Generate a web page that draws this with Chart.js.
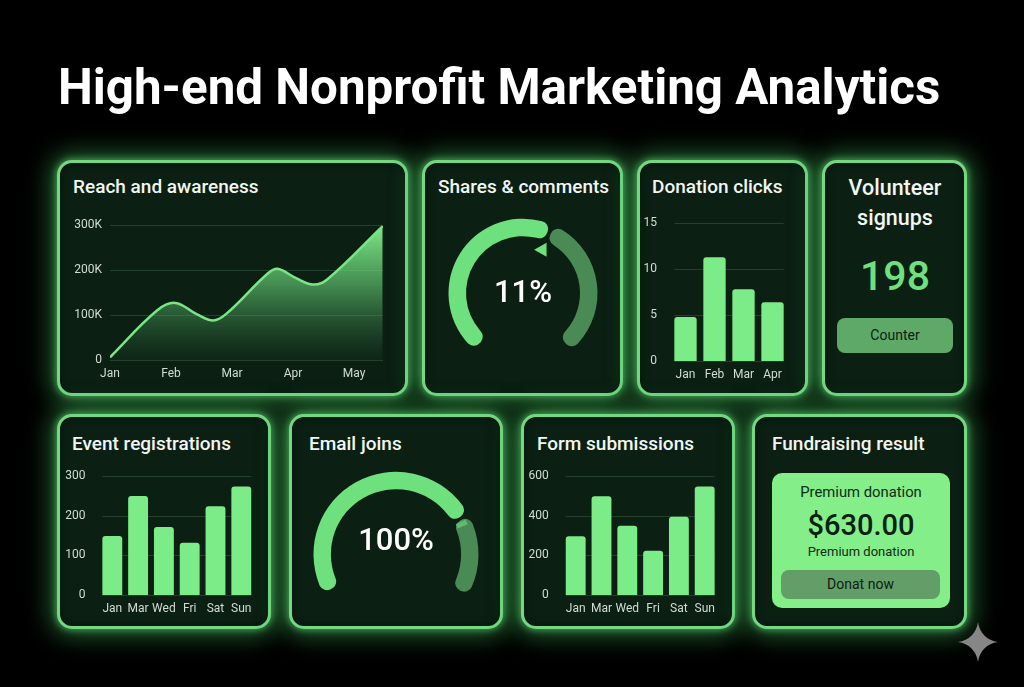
<!DOCTYPE html>
<html>
<head>
<meta charset="utf-8">
<title>High-end Nonprofit Marketing Analytics</title>
<script src="https://cdn.jsdelivr.net/npm/chart.js@4"></script>
<style>
  html, body { margin: 0; background: #000; }
  body { position: relative; width: 1024px; height: 687px; overflow: hidden; font-family: Roboto, sans-serif; color: #f2f6f2; }
  body > * { position: absolute; }
  h1 { margin: 0; left: 58px; top: 58px; font-size: 49.3px; line-height: 58px; font-weight: 700; color: #fff; white-space: nowrap; }
  .card { box-sizing: border-box; background: #0b1f13; border: 3px solid #72d882; border-radius: 15px;
          box-shadow: 0 0 7px 1px rgba(100,225,120,.6), 0 0 24px 7px rgba(65,185,90,.5), inset 0 0 10px rgba(0,0,0,.35); }
  .title { font-size: 19px; font-weight: 500; line-height: 24px; white-space: nowrap; }
  .center { transform: translateX(-50%); text-align: center; white-space: nowrap; }
  .pct { font-size: 31px; font-weight: 500; line-height: 36px; color: #fff; }
  .btn { box-sizing: border-box; border-radius: 8px; text-align: center; font-size: 14px; color: #0d2014; }
  canvas { display: block; }
</style>
</head>
<body>
<h1>High-end Nonprofit Marketing Analytics</h1>

<div class="card" style="left:57px;top:160px;width:351px;height:236px"></div>
<div class="card" style="left:422px;top:160px;width:201px;height:236px"></div>
<div class="card" style="left:637px;top:160px;width:171px;height:236px"></div>
<div class="card" style="left:822px;top:160px;width:145px;height:236px"></div>
<div class="card" style="left:57px;top:414px;width:214px;height:215px"></div>
<div class="card" style="left:289px;top:414px;width:214px;height:215px"></div>
<div class="card" style="left:521px;top:414px;width:214px;height:215px"></div>
<div class="card" style="left:752px;top:414px;width:215px;height:215px"></div>

<div class="title" style="left:73px;top:175px">Reach and awareness</div>
<div class="title" style="left:438px;top:175px">Shares &amp; comments</div>
<div class="title" style="left:652px;top:175px">Donation clicks</div>
<div class="title center" style="left:895px;top:173px;font-size:21.5px;line-height:30px">Volunteer<br>signups</div>
<div class="title" style="left:72px;top:432px">Event registrations</div>
<div class="title" style="left:309px;top:432px">Email joins</div>
<div class="title" style="left:537px;top:432px">Form submissions</div>
<div class="title" style="left:772px;top:432px">Fundraising result</div>

<canvas id="reach" width="338" height="175" style="left:62px;top:210px"></canvas>
<canvas id="shares" width="190" height="180" style="left:428px;top:195px"></canvas>
<canvas id="clicks" width="165" height="175" style="left:640px;top:210px"></canvas>
<canvas id="events" width="208" height="154" style="left:60px;top:463px"></canvas>
<canvas id="email" width="200" height="170" style="left:296px;top:449px"></canvas>
<canvas id="forms" width="208" height="154" style="left:524px;top:463px"></canvas>

<div class="pct center" style="left:523px;top:274px">11%</div>
<div class="pct center" style="left:396px;top:522px">100%</div>

<div class="center" style="left:895px;top:253px;font-size:41px;line-height:46px;font-weight:500;color:#6fe07f">198</div>
<div class="btn" style="left:837px;top:318px;width:116px;height:35px;line-height:35px;background:#5fa968">Counter</div>

<div style="left:772px;top:473px;width:178px;height:135px;border-radius:10px;background:#84ee88"></div>
<div class="center" style="left:861px;top:483px;font-size:14.8px;line-height:18px;color:#0f2a17">Premium donation</div>
<div class="center" style="left:861px;top:508px;font-size:29px;line-height:34px;font-weight:500;color:#0a2012">$630.00</div>
<div class="center" style="left:861px;top:543px;font-size:13px;line-height:18px;color:#0f2a17">Premium donation</div>
<div class="btn" style="left:781px;top:570px;width:159px;height:29px;line-height:29px;background:#639e68">Donat now</div>

<svg width="40" height="40" viewBox="0 0 40 40" style="left:958px;top:622px">
  <path d="M20 0C21.5 11 29 18.5 40 20C29 21.5 21.5 29 20 40C18.5 29 11 21.5 0 20C11 18.5 18.5 11 20 0Z" fill="#868686"/>
</svg>

<script>
const reachMonths = ["Jan", "Feb", "Mar", "Apr", "May"];
// x is in month units, the curve peaks don't sit on the month labels
const reachX = [0, 0.77, 1.07, 1.42, 1.69, 1.90, 2.59, 2.75, 3.05, 3.33, 3.56, 4.47];
const reachY = [6000, 110000, 127000, 102000, 88000, 102000, 193000, 203000, 182000, 168000, 179000, 298000];
const reachTicks = [0, 100000, 200000, 300000];

const sharesArc = [58.4, 41.6];
const emailArc = [75.7, 24.3];

const clickLabels = ["Jan", "Feb", "Mar", "Apr"];
const clickValues = [4.8, 11.3, 7.8, 6.4];

const weekLabels = ["Jan", "Mar", "Wed", "Fri", "Sat", "Sun"];
const eventValues = [149, 250, 172, 132, 224, 274];
const formValues = [297, 499, 350, 223, 395, 548];

const BRIGHT = "#7cec88";
const GAUGE = "#6fe07e";
const DIM = "#4a8a55";
const GRID = "rgba(120,180,130,.22)";
const TICK = "#d3dcd4";

Chart.defaults.font.family = "Roboto, sans-serif";
Chart.defaults.font.size = 12;
Chart.defaults.color = TICK;
Chart.defaults.animation = false;
Chart.defaults.responsive = false;
Chart.defaults.plugins.legend.display = false;
Chart.defaults.plugins.tooltip.enabled = false;

// grid lines only run from the first bar to the last one
const shortGrid = {
  id: "shortGrid",
  beforeDatasetsDraw(chart) {
    const bars = chart.getDatasetMeta(0).data;
    const first = bars[0], last = bars[bars.length - 1];
    const { ctx, scales } = chart;
    ctx.save();
    ctx.strokeStyle = GRID;
    ctx.lineWidth = 1;
    scales.y.ticks.forEach((t) => {
      const y = Math.round(scales.y.getPixelForValue(t.value)) + 0.5;
      ctx.beginPath();
      ctx.moveTo(first.x - first.width / 2, y);
      ctx.lineTo(last.x + last.width / 2, y);
      ctx.stroke();
    });
    ctx.restore();
  },
};

function barChart(id, labels, values, max, step, yWidth, rightPad, topPad, xHeight) {
  return new Chart(document.getElementById(id), {
    type: "bar",
    plugins: [shortGrid],
    data: {
      labels,
      datasets: [{
        data: values,
        backgroundColor: BRIGHT,
        barPercentage: 0.77,
        categoryPercentage: 1,
        borderRadius: { topLeft: 3, topRight: 3 },
        borderSkipped: "bottom",
      }],
    },
    options: {
      layout: { padding: { top: topPad, right: rightPad, left: 0, bottom: 0 } },
      scales: {
        x: {
          grid: { display: false, drawTicks: false },
          border: { display: false },
          ticks: { padding: 7, autoSkip: false, maxRotation: 0 },
          afterFit: (s) => { s.height = xHeight; },
        },
        y: {
          min: 0, max,
          grid: { display: false },
          border: { display: false },
          ticks: { stepSize: step, padding: 6 },
          afterFit: (s) => { s.width = yWidth; },
        },
      },
    },
  });
}

function gauge(id, values, radius, cutout, rotation, circumference, extra) {
  return new Chart(document.getElementById(id), {
    type: "doughnut",
    plugins: [extra],
    data: {
      datasets: [{
        data: values,
        backgroundColor: [GAUGE, DIM],
        borderWidth: 0,
        borderRadius: 8,
        spacing: 3,
      }],
    },
    options: { radius, cutout, rotation, circumference },
  });
}

new Chart(document.getElementById("reach"), {
  type: "line",
  data: {
    datasets: [{
      data: reachX.map((x, i) => ({ x, y: reachY[i] })),
      borderColor: "#79e686",
      borderWidth: 2.5,
      tension: 0.4,
      pointRadius: 0,
      fill: "origin",
      backgroundColor: (c) => {
        const area = c.chart.chartArea;
        if (!area) return "rgba(0,0,0,0)";
        const g = c.chart.ctx.createLinearGradient(0, area.top, 0, area.bottom);
        g.addColorStop(0, "rgba(124,236,136,1)");
        g.addColorStop(0.45, "rgba(105,210,120,.6)");
        g.addColorStop(1, "rgba(60,140,80,.06)");
        return g;
      },
    }],
  },
  options: {
    layout: { padding: { top: 13, right: 17 } },
    scales: {
      x: {
        type: "linear",
        min: 0, max: 4.475,
        grid: { display: false, drawTicks: false },
        border: { display: false },
        ticks: { stepSize: 1, includeBounds: false, padding: 7, maxRotation: 0, callback: (v) => reachMonths[v] },
        afterFit: (s) => { s.height = 25; },
      },
      y: {
        min: 0, max: 300000,
        afterBuildTicks: (s) => { s.ticks = reachTicks.map((value) => ({ value })); },
        grid: { color: GRID, drawTicks: false },
        border: { display: false },
        ticks: { padding: 8, callback: (v) => (v ? v / 1000 + "K" : "0") },
        afterFit: (s) => { s.width = 48; },
      },
    },
  },
});

// little pointer under the end of the bright arc
gauge("shares", sharesArc, 73, "76%", -141, 282, {
  id: "pointer",
  afterDatasetsDraw(chart) {
    const arc = chart.getDatasetMeta(0).data[0];
    const r = arc.innerRadius - 8;
    const cx = arc.x + Math.cos(arc.endAngle) * r;
    const cy = arc.y + Math.sin(arc.endAngle) * r;
    const { ctx } = chart;
    ctx.save();
    ctx.fillStyle = GAUGE;
    ctx.beginPath();
    ctx.moveTo(cx - 8, cy);
    ctx.lineTo(cx + 4.5, cy - 7);
    ctx.lineTo(cx + 4.5, cy + 7);
    ctx.fill();
    ctx.restore();
  },
});

// lighter cap where the dim arc starts
gauge("email", emailArc, 81, "78.5%", -120, 240, {
  id: "cap",
  afterDatasetsDraw(chart) {
    const arc = chart.getDatasetMeta(0).data[1];
    const { ctx } = chart;
    const mid = (arc.innerRadius + arc.outerRadius) / 2;
    ctx.save();
    ctx.strokeStyle = "#62b971";
    ctx.lineWidth = 11;
    ctx.beginPath();
    ctx.arc(arc.x, arc.y, mid, arc.startAngle + 0.03, arc.startAngle + 0.1);
    ctx.stroke();
    ctx.restore();
  },
});

barChart("clicks", clickLabels, clickValues, 15, 5, 31, 18, 13, 24);
barChart("events", weekLabels, eventValues, 300, 100, 39.4, 13.8, 12.7, 22);
barChart("forms", weekLabels, formValues, 600, 200, 38.8, 14.4, 12.7, 22);
</script>
</body>
</html>
